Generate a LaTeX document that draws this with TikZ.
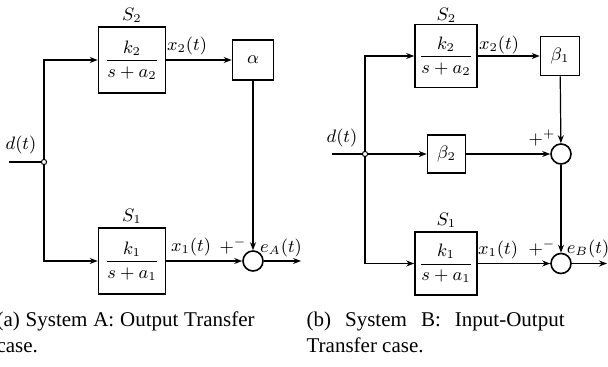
\documentclass[tikz,border=0pt]{standalone}
\usepackage[no-math]{fontspec}
\usepackage{amsmath}
\newfontfamily\capfont{Liberation Serif}
\usetikzlibrary{arrows.meta}
\begin{document}
\begin{tikzpicture}[x=0.5pt, y=-0.5pt, font=\small,
	>={Stealth[length=4pt,width=3pt]},
	line width=0.6pt,
	blk/.style={draw, line width=0.8pt, minimum width=33.5pt, minimum height=33pt, inner sep=1pt},
	gain/.style={draw, line width=0.8pt, minimum width=20.5pt, minimum height=20pt},
	sum/.style={draw, circle, line width=0.8pt, minimum size=10pt, inner sep=0pt},
	junc/.style={draw, circle, fill=white, minimum size=2.6pt, inner sep=0pt, line width=0.5pt},
	capnode/.style={anchor=north west, inner sep=0pt, text width=129pt, align=justify,
		font=\capfont\fontsize{10.5}{13}\selectfont}]
	\useasboundingbox (0,0) rectangle (608,367);

	% (a) output transfer
	\node[junc] (ja) at (44,162) {};
	\coordinate (ina) at (9,162);
	\node[blk] (s2a) at (132,60) {$\dfrac{k_2}{s+a_2}$};
	\node[blk] (s1a) at (132,261) {$\dfrac{k_1}{s+a_1}$};
	\node[gain] (alpha) at (253,60) {$\alpha$};
	\node[sum] (suma) at (253,261) {};
	\coordinate (outa) at (301,261);
	\node (ls2a) at (132,15) {$S_2$};
	\node (ls1a) at (132,216) {$S_1$};
	\node (lx2a) at (187,46) {$x_2(t)$};
	\node (lx1a) at (191,247) {$x_1(t)$};
	\node (pma) at (233,246) {$+^{-}$};
	\node (lea) at (281,248) {$e_A(t)$};
	\node (lda) at (21,145) {$d(t)$};
	\draw (ina) -- (ja);
	\draw[->] (ja) |- (s2a);
	\draw[->] (ja) |- (s1a);
	\draw[->] (s2a) -- (alpha);
	\draw[->] (alpha) -- (suma);
	\draw[->] (s1a) -- (suma);
	\draw[->] (suma) -- (outa);

	% (b) input-output transfer
	\node[junc] (jb) at (365,154) {};
	\coordinate (inb) at (332,154);
	\node[blk, minimum width=31pt, minimum height=31.5pt] (s2b) at (446,56) {$\dfrac{k_2}{s+a_2}$};
	\node[blk, minimum width=31pt, minimum height=31.5pt] (s1b) at (446,263.5) {$\dfrac{k_1}{s+a_1}$};
	\node[gain, minimum width=19.5pt, minimum height=19.5pt] (beta1) at (560,56) {$\beta_1$};
	\node[gain, minimum width=19pt, minimum height=19pt] (beta2) at (446.5,154) {$\beta_2$};
	\node[sum] (sumb1) at (561,154) {};
	\node[sum] (sumb2) at (561,263.5) {};
	\coordinate (outb) at (607,263.5);
	\node (ls2b) at (446.5,15) {$S_2$};
	\node (ls1b) at (446.5,220) {$S_1$};
	\node (lx2b) at (499,45) {$x_2(t)$};
	\node (lx1b) at (498,250) {$x_1(t)$};
	\node (pmb) at (542,248) {$+^{-}$};
	\node (ppb) at (542,138) {$+^{+}$};
	\node (leb) at (588,249) {$e_B(t)$};
	\node (ldb) at (342,138) {$d(t)$};
	\draw (inb) -- (jb);
	\draw[->] (jb) |- (s2b);
	\draw[->] (jb) |- (s1b);
	\draw[->] (jb) -- (beta2);
	\draw[->] (s2b) -- (beta1);
	\draw[->] (beta1) -- (sumb1);
	\draw[->] (beta2) -- (sumb1);
	\draw[->] (sumb1) -- (sumb2);
	\draw[->] (s1b) -- (sumb2);
	\draw[->] (sumb2) -- (outb);

	% captions
	\node[capnode] (capa) at (-4,311) {(a) System A: Output Transfer case.};
	\node[capnode] (capb) at (306,311) {(b) System B: Input-Output Transfer case.};
\end{tikzpicture}
\end{document}
